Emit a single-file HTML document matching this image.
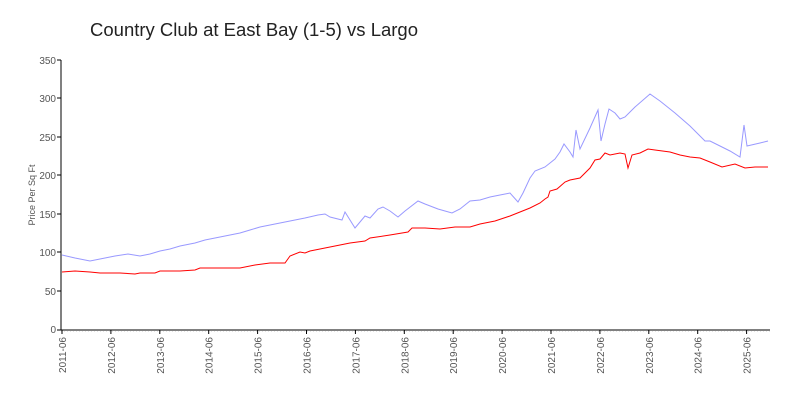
<!DOCTYPE html>
<html><head><meta charset="utf-8"><style>body{margin:0;background:#fff}svg{display:block}text{font-family:"Liberation Sans",sans-serif}</style></head><body>
<svg width="800" height="400" xmlns="http://www.w3.org/2000/svg">
<text x="90" y="36" font-size="18.5" fill="#222">Country Club at East Bay (1-5) vs Largo</text>
<text transform="translate(35,195) rotate(-90)" font-size="9" fill="#555" text-anchor="middle">Price Per Sq Ft</text>
<g font-size="10" fill="#555" text-anchor="end">
<text x="56" y="333">0</text><text x="56" y="295">50</text><text x="56" y="256">100</text><text x="56" y="218">150</text><text x="56" y="179">200</text><text x="56" y="141">250</text><text x="56" y="102">300</text><text x="56" y="64">350</text>
</g>
<line x1="61" y1="331.5" x2="770" y2="331.5" stroke="#e4e4e4" stroke-dasharray="1,2"/>
<g stroke="#000" stroke-width="1">
<line x1="61" y1="60" x2="61" y2="330"/><line x1="57" y1="330" x2="770" y2="330"/>
<line x1="57" y1="60" x2="61" y2="60"/><line x1="57" y1="98" x2="61" y2="98"/><line x1="57" y1="137" x2="61" y2="137"/><line x1="57" y1="175" x2="61" y2="175"/><line x1="57" y1="214" x2="61" y2="214"/><line x1="57" y1="252" x2="61" y2="252"/><line x1="57" y1="291" x2="61" y2="291"/>
<line x1="62" y1="330" x2="62" y2="334"/><line x1="110.9" y1="330" x2="110.9" y2="334"/><line x1="159.8" y1="330" x2="159.8" y2="334"/><line x1="208.7" y1="330" x2="208.7" y2="334"/><line x1="257.6" y1="330" x2="257.6" y2="334"/><line x1="306.5" y1="330" x2="306.5" y2="334"/><line x1="355.4" y1="330" x2="355.4" y2="334"/><line x1="404.3" y1="330" x2="404.3" y2="334"/><line x1="453.2" y1="330" x2="453.2" y2="334"/><line x1="502.1" y1="330" x2="502.1" y2="334"/><line x1="551" y1="330" x2="551" y2="334"/><line x1="599.9" y1="330" x2="599.9" y2="334"/><line x1="648.8" y1="330" x2="648.8" y2="334"/><line x1="697.7" y1="330" x2="697.7" y2="334"/><line x1="746.6" y1="330" x2="746.6" y2="334"/>
</g>
<g font-size="10" fill="#555" text-anchor="end">
<text transform="translate(66,337) rotate(-90)">2011-06</text>
<text transform="translate(114.9,337) rotate(-90)">2012-06</text>
<text transform="translate(163.8,337) rotate(-90)">2013-06</text>
<text transform="translate(212.7,337) rotate(-90)">2014-06</text>
<text transform="translate(261.6,337) rotate(-90)">2015-06</text>
<text transform="translate(310.5,337) rotate(-90)">2016-06</text>
<text transform="translate(359.4,337) rotate(-90)">2017-06</text>
<text transform="translate(408.3,337) rotate(-90)">2018-06</text>
<text transform="translate(457.2,337) rotate(-90)">2019-06</text>
<text transform="translate(506.1,337) rotate(-90)">2020-06</text>
<text transform="translate(555,337) rotate(-90)">2021-06</text>
<text transform="translate(603.9,337) rotate(-90)">2022-06</text>
<text transform="translate(652.8,337) rotate(-90)">2023-06</text>
<text transform="translate(701.7,337) rotate(-90)">2024-06</text>
<text transform="translate(750.6,337) rotate(-90)">2025-06</text>
</g>
<polyline fill="none" stroke="#9999ff" stroke-width="1" points="62,255 75,258 90,261 100,259 115,256 128,254 140,256 150,254 160,251 170,249 180,246 195,243 205,240 215,238 230,235 240,233 250,230 260,227 275,224 290,221 305,218 318,215 325,214 330,217 342,220 345,212 355,228 365,216 370,218 378,209 383,207 390,211 398,217 405,211 418,201 425,204 438,209 445,211 452,213 460,209 470,201 480,200 490,197 500,195 510,193 518,202 523,193 530,178 535,171 545,167 555,159 560,152 564,144 570,152 573,157 576,130 580,149 590,128 598,110 601,141 605,124 609,109 615,113 620,119 625,117 635,107 650,94 660,101 675,113 690,126 700,136 705,141 710,141 720,146 730,151 740,157 744,125 747,146 760,143 768,141"/>
<polyline fill="none" stroke="#ff0000" stroke-width="1" points="62,272 75,271 90,272 100,273 120,273 135,274 140,273 155,273 160,271 180,271 195,270 200,268 240,268 255,265 270,263 285,263 290,256 300,252 305,253 310,251 330,247 350,243 365,241 370,238 390,235 408,232 412,228 425,228 440,229 455,227 470,227 480,224 495,221 510,216 520,212 530,208 540,203 545,199 548,197 550,191 557,189 565,182 570,180 580,178 590,168 595,160 600,159 605,153 610,155 620,153 625,154 628,168 632,155 640,153 648,149 655,150 670,152 680,155 690,157 700,158 710,162 722,167 735,164 745,168 755,167 768,167"/>
</svg>
</body></html>
